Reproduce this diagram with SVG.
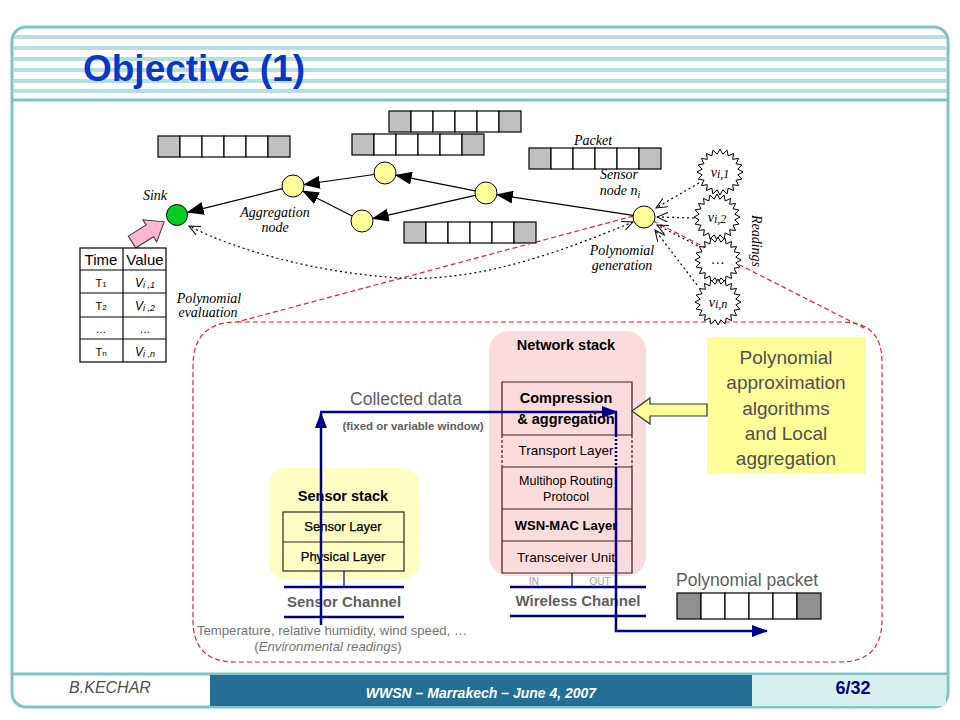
<svg xmlns="http://www.w3.org/2000/svg" width="960" height="720" viewBox="0 0 960 720">
<defs>
<style>
.sans{font-family:"Liberation Sans",Arial,sans-serif}
.it{font-family:"Liberation Serif","Times New Roman",serif;font-style:italic;font-size:14px;fill:#000;text-anchor:middle}
.stripe{stroke:#b5dfe0;stroke-width:4}
.pk{stroke:#000;stroke-width:1.2;fill:#fff}
.pkg{stroke:#000;stroke-width:1.2;fill:#c0c0c0}
.pkd{stroke:#000;stroke-width:1.2;fill:#909090}
.node{fill:#ffff99;stroke:#000;stroke-width:1}
.edge{stroke:#000;stroke-width:1.2;fill:none;marker-end:url(#ah)}
.dot{stroke:#000;stroke-width:1.2;stroke-dasharray:2,3;fill:none}
.red{stroke:#e02828;stroke-width:1.2;stroke-dasharray:5,3;fill:none}
.navy{stroke:#000088;stroke-width:2.5;fill:none}
.thin{stroke:#000088;stroke-width:1.2;fill:none}
.cell{fill:none;stroke:#3a2020;stroke-width:1.2}
.lt{font-family:"Liberation Sans",Arial,sans-serif;text-anchor:middle;fill:#000}
.gray{fill:#606060}
.lgray{fill:#747474}
.pale{fill:#a0a0a0}
.ptxt{fill:#505050}
</style>
<marker id="ah" markerUnits="userSpaceOnUse" markerWidth="17" markerHeight="13" refX="16" refY="6.5" orient="auto"><path d="M0,0 L17,6.5 L0,13 Z" fill="#000"/></marker>
<marker id="oa" markerUnits="userSpaceOnUse" markerWidth="12" markerHeight="10" refX="11" refY="5" orient="auto-start-reverse"><path d="M0,0 L11,5 L0,10" fill="none" stroke="#000" stroke-width="1"/></marker>
<marker id="na" markerUnits="userSpaceOnUse" markerWidth="16" markerHeight="12" refX="15" refY="6" orient="auto"><path d="M0,0 L16,6 L0,12 Z" fill="#000088"/></marker>
<polygon id="star" points="23.0,0.0 17.8,2.8 21.9,7.1 16.0,8.2 18.6,13.5 12.7,12.7 13.5,18.6 8.2,16.0 7.1,21.9 2.8,17.8 0.0,23.0 -2.8,17.8 -7.1,21.9 -8.2,16.0 -13.5,18.6 -12.7,12.7 -18.6,13.5 -16.0,8.2 -21.9,7.1 -17.8,2.8 -23.0,0.0 -17.8,-2.8 -21.9,-7.1 -16.0,-8.2 -18.6,-13.5 -12.7,-12.7 -13.5,-18.6 -8.2,-16.0 -7.1,-21.9 -2.8,-17.8 0.0,-23.0 2.8,-17.8 7.1,-21.9 8.2,-16.0 13.5,-18.6 12.7,-12.7 18.6,-13.5 16.0,-8.2 21.9,-7.1 17.8,-2.8" fill="#fff" stroke="#000" stroke-width="1"/>
<g id="pkt">
<rect class="pkg" x="0" y="0" width="22" height="21"/>
<rect class="pk" x="22" y="0" width="22" height="21"/>
<rect class="pk" x="44" y="0" width="22" height="21"/>
<rect class="pk" x="66" y="0" width="22" height="21"/>
<rect class="pk" x="88" y="0" width="22" height="21"/>
<rect class="pkg" x="110" y="0" width="22" height="21"/>
</g>
</defs>

<!-- frame -->
<g id="frame">
<rect x="12" y="27" width="936" height="680" rx="14" fill="#fff" stroke="#80c4c8" stroke-width="3"/>
<line class="stripe" x1="14" y1="37" x2="946" y2="37"/>
<line class="stripe" x1="13" y1="48" x2="947" y2="48"/>
<line class="stripe" x1="13" y1="59" x2="947" y2="59"/>
<line class="stripe" x1="13" y1="70" x2="947" y2="70"/>
<line class="stripe" x1="13" y1="81" x2="947" y2="81"/>
<line class="stripe" x1="13" y1="91" x2="947" y2="91"/>
<line x1="13" y1="100" x2="947" y2="100" stroke="#80c4c8" stroke-width="3"/>
<text x="83" y="81" class="sans" font-size="36" font-weight="bold" fill="#0838c8" textLength="222" lengthAdjust="spacingAndGlyphs">Objective (1)</text>
</g>

<!-- footer -->
<g id="footer">
<line x1="13" y1="674" x2="947" y2="674" stroke="#80c4c8" stroke-width="3"/>
<rect x="210" y="675" width="542" height="31" fill="#246f96"/>
<rect x="752" y="675" width="194" height="31" fill="#d6f0f0"/>
<text x="110" y="693" class="sans" font-size="16" font-style="italic" fill="#505050" text-anchor="middle">B.KECHAR</text>
<text x="481" y="698" class="sans" font-size="14" font-style="italic" font-weight="bold" fill="#fff" text-anchor="middle">WWSN – Marrakech – June 4, 2007</text>
<text x="853" y="694" class="sans" font-size="18" font-weight="bold" fill="#000080" text-anchor="middle">6/32</text>
</g>

<!-- packets -->
<g id="packets">
<use href="#pkt" x="158" y="136"/>
<use href="#pkt" x="389" y="111"/>
<use href="#pkt" x="352" y="134"/>
<use href="#pkt" x="404" y="222"/>
<use href="#pkt" x="529" y="148"/>
</g>

<!-- red dashed zoom outline -->
<g id="zoom-outline">
<path class="red" d="M 237,322 L 842,322 Q 882,322 882,362 L 882,620 Q 882,662 840,662 L 235,662 Q 193,662 193,620 L 193,366 Q 193,322 237,322 Z"/>
<line class="red" x1="641" y1="214" x2="237" y2="322"/>
<line class="red" x1="653" y1="221" x2="864" y2="328"/>
</g>

<!-- connectors -->
<g id="connectors">
<line class="edge" x1="633.1" y1="215.3" x2="496.9" y2="194.7"/>
<line class="edge" x1="475.2" y1="190.9" x2="395.8" y2="175.1"/>
<line class="edge" x1="475.3" y1="195.4" x2="372.7" y2="218.6"/>
<line class="edge" x1="374.1" y1="174.5" x2="303.9" y2="184.5"/>
<line class="edge" x1="352.2" y1="216" x2="302.8" y2="191"/>
<line class="edge" x1="282.3" y1="188.7" x2="187.7" y2="212.3"/>
<path class="dot" marker-start="url(#oa)" marker-end="url(#oa)" d="M 633,222 C 560,252 480,282 400,278 C 320,273 240,252 189,226"/>
<line class="dot" marker-end="url(#oa)" x1="699" y1="183" x2="656" y2="208"/>
<line class="dot" marker-end="url(#oa)" x1="694" y1="218" x2="657" y2="217"/>
<line class="dot" marker-end="url(#oa)" x1="702" y1="248" x2="657" y2="225"/>
<line class="dot" marker-end="url(#oa)" x1="697" y1="285" x2="655" y2="230"/>
</g>

<!-- nodes -->
<g id="sink"><circle cx="177" cy="215" r="10.5" fill="#00cc22" stroke="#000" stroke-width="1"/>
<text x="155" y="200" class="it">Sink</text></g>
<g id="agg1"><circle class="node" cx="293" cy="186" r="11"/>
<text x="275" y="217" class="it">Aggregation</text><text x="275" y="232" class="it">node</text></g>
<g id="agg2"><circle class="node" cx="385" cy="173" r="11"/></g>
<g id="agg3"><circle class="node" cx="362" cy="221" r="11"/></g>
<g id="agg4"><circle class="node" cx="486" cy="193" r="11"/></g>
<g id="sensor-node"><circle class="node" cx="644" cy="217" r="11"/>
<text x="593" y="145" class="it">Packet</text>
<text x="619" y="179" class="it">Sensor</text>
<text x="620" y="195" class="it">node <tspan>n</tspan><tspan font-size="10" dy="3">i</tspan></text>
<text x="622" y="255" class="it">Polynomial</text>
<text x="622" y="270" class="it">generation</text></g>

<g id="readings">
<use href="#star" x="720" y="172"/>
<use href="#star" x="717" y="217"/>
<use href="#star" x="718" y="260"/>
<use href="#star" x="718" y="302"/>
<text x="720" y="177" class="it" font-size="15">v<tspan font-size="12" dy="1">i,1</tspan></text>
<text x="717" y="222" class="it" font-size="15">v<tspan font-size="12" dy="1">i,2</tspan></text>
<text x="718" y="264" class="it">…</text>
<text x="718" y="307" class="it" font-size="15">v<tspan font-size="12" dy="1">i,n</tspan></text>
<text transform="translate(752,241) rotate(90)" class="it" font-size="11">Readings</text>
</g>

<!-- pink arrow -->
<g id="pink-arrow">
<path transform="translate(132,242) rotate(-32)" d="M0,-7 L21,-7 L21,-13 L38,0 L21,13 L21,7 L0,7 Z" fill="#ffb4d2" stroke="#333" stroke-width="1"/>
</g>

<!-- table -->
<g id="table">
<rect x="80" y="248" width="86" height="114" fill="#fff" stroke="#000" stroke-width="1.2"/>
<line x1="123" y1="248" x2="123" y2="362" stroke="#000" stroke-width="1.2"/>
<line x1="80" y1="270" x2="166" y2="270" stroke="#000" stroke-width="1.2"/>
<line x1="80" y1="293" x2="166" y2="293" stroke="#000" stroke-width="1.2"/>
<line x1="80" y1="317" x2="166" y2="317" stroke="#000" stroke-width="1.2"/>
<line x1="80" y1="339" x2="166" y2="339" stroke="#000" stroke-width="1.2"/>
<text x="101" y="265" class="lt" font-size="15">Time</text>
<text x="145" y="265" class="lt" font-size="15">Value</text>
<text x="101" y="287" class="lt" font-size="11">T<tspan font-size="8">1</tspan></text>
<text x="101" y="310" class="lt" font-size="11">T<tspan font-size="8">2</tspan></text>
<text x="101" y="333" class="lt" font-size="11">…</text>
<text x="101" y="356" class="lt" font-size="11">T<tspan font-size="8">n</tspan></text>
<text x="145" y="287" class="lt" font-size="12" font-style="italic">V<tspan font-size="9" dy="1">i ,1</tspan></text>
<text x="145" y="310" class="lt" font-size="12" font-style="italic">V<tspan font-size="9" dy="1">i ,2</tspan></text>
<text x="145" y="333" class="lt" font-size="11">…</text>
<text x="145" y="356" class="lt" font-size="12" font-style="italic">V<tspan font-size="9" dy="1">i ,n</tspan></text>
<text x="209" y="303" class="it">Polynomial</text>
<text x="208" y="317" class="it">evaluation</text>
</g>

<!-- network stack -->
<g id="network-stack">
<rect x="489" y="331" width="157" height="245" rx="20" fill="#fbdcdc"/>
<text x="566" y="350" class="lt" font-size="14.5" font-weight="bold">Network stack</text>
<path class="cell" d="M502,435 L502,382 L632,382 L632,435 M502,467 L502,573 L632,573 L632,467 M502,435 L632,435 M502,467 L632,467 M502,509 L632,509 M502,541 L632,541"/>
<path class="cell" stroke-dasharray="3,2" d="M502,435 L502,467 M632,435 L632,467"/>
<text x="566" y="403" class="lt" font-size="14.5" font-weight="bold">Compression</text>
<text x="566" y="424" class="lt" font-size="14.5" font-weight="bold">&amp; aggregation</text>
<text x="566" y="455" class="lt" font-size="13.5">Transport  Layer</text>
<text x="566" y="485" class="lt" font-size="12.5">Multihop Routing</text>
<text x="566" y="501" class="lt" font-size="12.5">Protocol</text>
<text x="566" y="530" class="lt" font-size="13" font-weight="bold">WSN-MAC  Layer</text>
<text x="566" y="562" class="lt" font-size="13.5">Transceiver Unit</text>
</g>

<!-- sensor stack -->
<g id="sensor-stack">
<rect x="269" y="468" width="150" height="111" rx="16" fill="#ffffc4"/>
<text x="343" y="501" class="lt" font-size="14.5" font-weight="bold">Sensor stack</text>
<rect class="cell" x="283" y="512" width="121" height="59"/>
<line class="cell" x1="283" y1="542" x2="404" y2="542"/>
<text x="343" y="531" class="lt" font-size="13" stroke="#000" stroke-width="0.25">Sensor Layer</text>
<text x="343" y="561" class="lt" font-size="13" stroke="#000" stroke-width="0.25">Physical Layer</text>
</g>

<!-- channels -->
<g id="sensor-channel">
<line class="thin" x1="344" y1="571" x2="344" y2="587"/>
<line class="navy" x1="284" y1="587" x2="404" y2="587"/>
<line class="navy" x1="284" y1="617" x2="404" y2="617"/>
<text x="344" y="607" class="lt gray" font-size="15" font-weight="bold">Sensor Channel</text>
<text x="332" y="635" class="lt lgray" font-size="13.2">Temperature,  relative  humidity, wind speed, …</text>
<text x="328" y="651" class="lt lgray" font-size="13.2">(<tspan font-style="italic">Environmental  readings</tspan>)</text>
</g>
<g id="wireless-channel">
<line class="thin" x1="572" y1="573" x2="572" y2="587"/>
<line class="navy" x1="510" y1="587" x2="646" y2="587"/>
<line class="navy" x1="510" y1="616" x2="646" y2="616"/>
<text x="534" y="585" class="lt pale" font-size="10">IN</text>
<text x="600" y="585" class="lt pale" font-size="10">OUT</text>
<text x="578" y="606" class="lt gray" font-size="15" font-weight="bold">Wireless Channel</text>
</g>

<!-- polynomial box -->
<g id="poly-box">
<rect x="707" y="337" width="159" height="137" fill="#ffff99"/>
<text x="786" y="364" class="lt ptxt" font-size="19">Polynomial</text>
<text x="786" y="389" class="lt ptxt" font-size="19">approximation</text>
<text x="786" y="415" class="lt ptxt" font-size="19">algorithms</text>
<text x="786" y="440" class="lt ptxt" font-size="19">and Local</text>
<text x="786" y="465" class="lt ptxt" font-size="19">aggregation</text>
<polygon points="632,411 650,398 650,404 707,404 707,416 650,416 650,424" fill="#ffff99" stroke="#333" stroke-width="1.2"/>
</g>

<!-- data flow -->
<g id="data-flow">
<line class="navy" x1="321" y1="625" x2="321" y2="413" marker-end="url(#na)"/>
<line class="navy" x1="320" y1="412" x2="617" y2="412" marker-end="url(#na)"/>
<path class="navy" d="M616,413 L616,435"/>
<path class="navy" stroke-width="2" stroke-dasharray="2,2" d="M616,435 L616,467"/>
<path class="navy" d="M616,467 L616,631 L767,631" marker-end="url(#na)"/>
<text x="406" y="405" class="lt gray" font-size="17.5">Collected data</text>
<text x="413" y="430" class="lt gray" font-size="11.5" font-weight="bold">(fixed or variable window)</text>
</g>

<!-- polynomial packet -->
<g id="poly-packet">
<text x="747" y="586" class="lt gray" font-size="17.5">Polynomial packet</text>
<rect class="pkd" x="677" y="593" width="24" height="26"/>
<rect class="pk" x="701" y="593" width="24" height="26"/>
<rect class="pk" x="725" y="593" width="24" height="26"/>
<rect class="pk" x="749" y="593" width="24" height="26"/>
<rect class="pk" x="773" y="593" width="24" height="26"/>
<rect class="pkd" x="797" y="593" width="24" height="26"/>
</g>
</svg>
